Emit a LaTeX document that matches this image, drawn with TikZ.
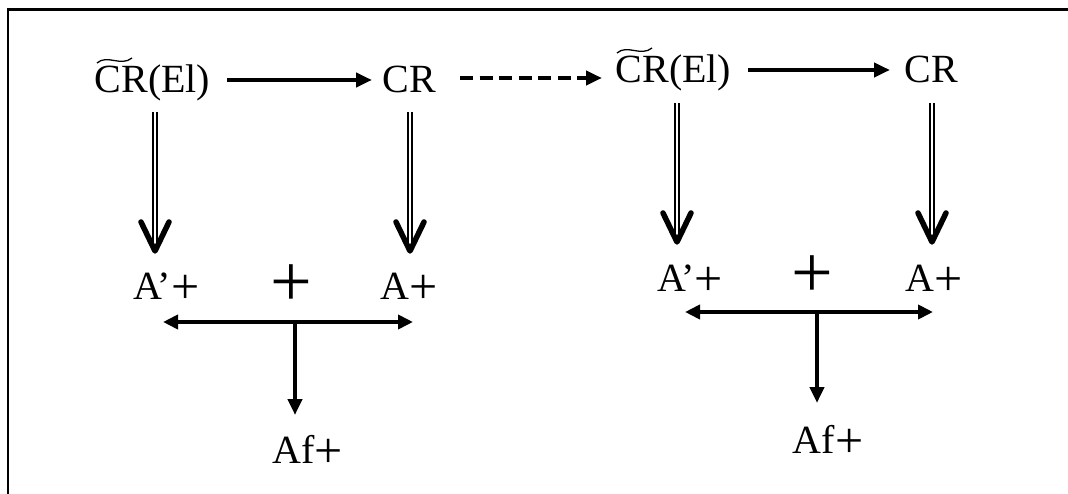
\documentclass[tikz,border=0pt]{standalone}
\usepackage{fontspec}
\setmainfont{Liberation Serif}
\usetikzlibrary{arrows.meta}
\newcommand{\pl}{\raisebox{-4pt}{\fontsize{50}{50}\selectfont +}}
\tikzset{
 uplbl/.style={font=\fontsize{40}{42}\selectfont, inner sep=0pt, anchor=base},
 lbl/.style={font=\fontsize{40}{42}\selectfont, inner sep=0pt, anchor=base},
 bigplus/.style={font=\fontsize{74}{76}\selectfont, inner sep=0pt, anchor=center},
 arr/.style={line width=4.5pt, -{Triangle[length=16pt,width=14pt]}},
 darr/.style={arr, dash pattern=on 13pt off 6.5pt},
 biarr/.style={line width=4.5pt, {Triangle[length=15pt,width=14pt]}-{Triangle[length=15pt,width=14pt]}},
 shaft/.style={double, double distance=2pt, line width=1.6pt},
 chev/.style={line width=5.5pt, line cap=round, line join=round},
 frame/.style={line width=2.6pt},
 tld/.style={line width=1.3pt}
}
\begin{document}
\begin{tikzpicture}[x=1pt,y=-1pt]
\useasboundingbox (0,0) rectangle (1068,494);
\draw[frame] (8,494) -- (8,9.5) -- (1068,9.5);

% left group
\node[uplbl] (t1) at (152.5,93) {CR(El)};
\node[uplbl] (cr1) at (409,93) {CR};
\node[lbl] (ap1) at (166.5,300) {A’\pl};
\node[bigplus] (p1) at (291,286) {+};
\node[lbl] (a1) at (409,300) {A\pl};
\node[lbl] (af1) at (307.5,463) {Af\pl};
\draw[tld] (97,63) .. controls (107,54) and (121,67) .. (132,58);

% right group
\node[uplbl] (t2) at (673.5,83) {CR(El)};
\node[uplbl] (cr2) at (931.5,83) {CR};
\node[lbl] (ap2) at (690,291) {A’\pl};
\node[bigplus] (p2) at (812,277) {+};
\node[lbl] (a2) at (934,291) {A\pl};
\node[lbl] (af2) at (828,453) {Af\pl};
\draw[tld] (617,53) .. controls (627,44) and (641,57) .. (652,48);

% horizontal arrows
\coordinate (h1s) at (227,80); \coordinate (h1e) at (372,80);
\coordinate (dss) at (460,78); \coordinate (dse) at (602,78);
\coordinate (h2s) at (748,70); \coordinate (h2e) at (890,70);
\draw[arr] (h1s) -- (h1e);
\draw[darr] (dss) -- (dse);
\draw[arr] (h2s) -- (h2e);

% double arrows
\foreach \x/\ys/\ye in {155/112/251, 410/112/251, 677/103/242, 932/103/242}{
  \draw[shaft] (\x,\ys) -- (\x,\ye);
  \draw[chev] (\x-14,\ye-29) -- (\x,\ye) -- (\x+14,\ye-29);
}

% bidirectional + down
\coordinate (b1l) at (163,322); \coordinate (b1r) at (413,322);
\coordinate (b1m) at (295,322); \coordinate (b1d) at (295,415);
\draw[biarr] (b1l) -- (b1r);
\draw[arr] (b1m) -- (b1d);
\coordinate (b2l) at (685,312); \coordinate (b2r) at (933,312);
\coordinate (b2m) at (817,312); \coordinate (b2d) at (817,403);
\draw[biarr] (b2l) -- (b2r);
\draw[arr] (b2m) -- (b2d);
\end{tikzpicture}
\end{document}
